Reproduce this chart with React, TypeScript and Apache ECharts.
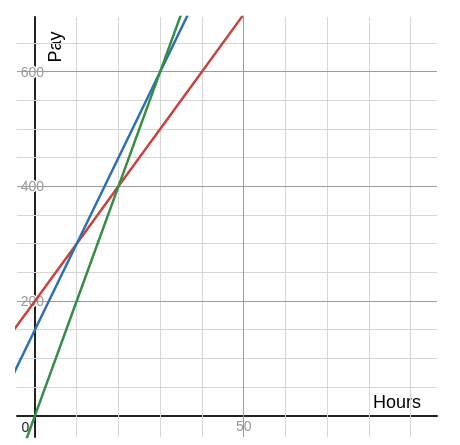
import React, { useEffect, useRef } from "react";
import * as echarts from "echarts";

const hours = [-10, 0, 10, 20, 30, 40, 50, 60];
const redPay = [100, 200, 300, 400, 500, 600, 700, 800];
const bluePay = [0, 150, 300, 450, 600, 750, 900, 1050];
const greenPay = [-200, 0, 200, 400, 600, 800, 1000, 1200];

const xMinorGrid = [10, 20, 30, 40, 60, 70, 80, 90];
const xMajorGrid = [50];
const yMinorGrid = [50, 100, 150, 250, 300, 350, 450, 500, 550, 650];
const yMajorGrid = [200, 400, 600];

const xTickLabels = [0, 50];
const yTickLabels = [200, 400, 600];

const X_MIN = -4.3;
const X_MAX = 96.3;
const Y_MIN = -37.2;
const Y_MAX = 695.4;

const FONT = "Arial, 'Liberation Sans', sans-serif";

function pairs(xs: number[], ys: number[]) {
  return xs.map((x, i) => [x, ys[i]]);
}

export default function App() {
  const ref = useRef<HTMLDivElement>(null);
  useEffect(() => {
    if (!ref.current) return;
    const chart = echarts.init(ref.current, undefined, { renderer: "svg" });
    const gl = 17, gt = 17, gw = 420, gh = 420;
    // offsets that bring each axis onto the other axis's zero
    const xAxisOffset = -(gh * (0 - Y_MIN)) / (Y_MAX - Y_MIN);
    const yAxisOffset = -(gw * (0 - X_MIN)) / (X_MAX - X_MIN);
    const gridLine = (color: string, xs: number[], ys: number[], z: number) => ({
      type: "line",
      data: [],
      z,
      silent: true,
      markLine: {
        silent: true,
        symbol: ["none", "none"],
        label: { show: false },
        animation: false,
        lineStyle: { color, width: 1, type: "solid" },
        data: [...xs.map((v) => ({ xAxis: v })), ...ys.map((v) => ({ yAxis: v }))],
      },
    });
    const dataLine = (name: string, color: string, ys: number[]) => ({
      type: "line",
      name,
      data: pairs(hours, ys),
      showSymbol: false,
      symbol: "none",
      z: 5,
      clip: true,
      lineStyle: { color, width: 2.5 },
    });
    chart.setOption({
      animation: false,
      grid: {
        left: gl,
        top: gt,
        right: 460 - gl - gw,
        bottom: 445 - gt - gh,
        containLabel: false,
        outerBoundsMode: "none",
      },
      xAxis: {
        type: "value",
        min: X_MIN,
        max: X_MAX,
        offset: xAxisOffset,
        axisLine: { show: true, onZero: false, lineStyle: { color: "#222", width: 2 } },
        axisTick: { show: false },
        splitLine: { show: false },
        axisLabel: {
          customValues: xTickLabels,
          margin: 3,
          fontFamily: FONT,
          fontSize: 14,
          color: "#999",
          textBorderColor: "#fff",
          textBorderWidth: 3,
          formatter: (v: number) => (v === 0 ? "{o|0}" : "{n|" + v + "}"),
          rich: {
            o: { color: "#222", fontSize: 14, fontFamily: FONT, padding: [1, 19, 0, 0] },
            n: { color: "#999", fontSize: 14, fontFamily: FONT },
          },
        },
      },
      yAxis: {
        type: "value",
        min: Y_MIN,
        max: Y_MAX,
        offset: yAxisOffset,
        axisLine: { show: true, onZero: false, lineStyle: { color: "#222", width: 2 } },
        axisTick: { show: false },
        splitLine: { show: false },
        axisLabel: {
          customValues: yTickLabels,
          margin: 0,
          align: "center",
          padding: [0, 5, 0, 0],
          fontFamily: FONT,
          fontSize: 14,
          color: "#999",
          textBorderColor: "#fff",
          textBorderWidth: 3,
        },
      },
      graphic: [
        {
          type: "text",
          x: 55,
          y: 47,
          rotation: Math.PI / 2,
          style: {
            text: "Pay",
            fontFamily: FONT,
            fontSize: 18,
            fill: "#000",
            align: "center",
            verticalAlign: "middle",
          },
        },
        {
          type: "text",
          x: 397,
          y: 402,
          style: {
            text: "Hours",
            fontFamily: FONT,
            fontSize: 18,
            fill: "#000",
            align: "center",
            verticalAlign: "middle",
          },
        },
      ],
      series: [
        gridLine("#d6d6d6", xMinorGrid, yMinorGrid, -2),
        gridLine("#9c9c9c", xMajorGrid, yMajorGrid, -1),
        dataLine("Red", "#c74440", redPay),
        dataLine("Blue", "#2d70b3", bluePay),
        dataLine("Green", "#388c46", greenPay),
      ],
    });
    return () => chart.dispose();
  }, []);
  return (
    <div
      ref={ref}
      style={{ position: "fixed", left: 0, top: 0, width: 460, height: 445 }}
    />
  );
}
